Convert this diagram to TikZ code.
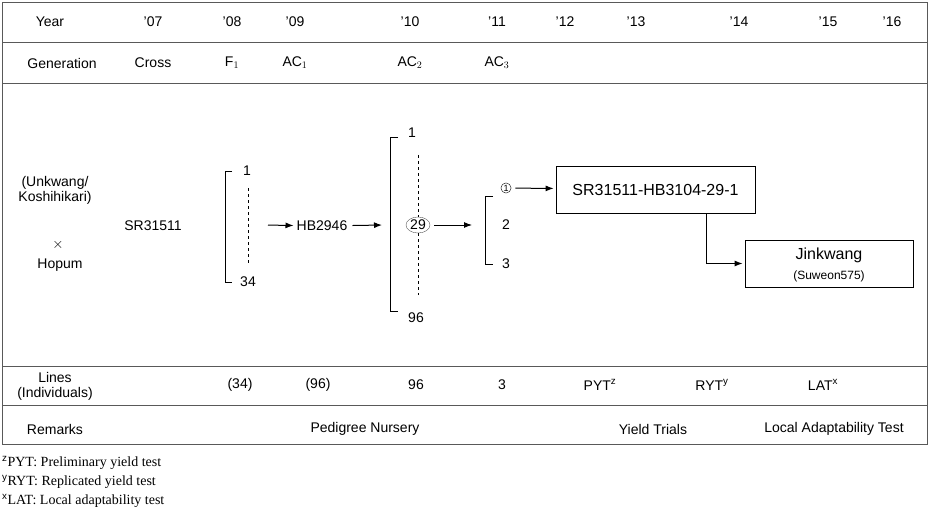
\documentclass[tikz,border=0pt]{standalone}
\usepackage{fontspec}
\setmainfont{Liberation Sans}
\newfontfamily\notefont{Liberation Serif}
\usetikzlibrary{arrows.meta,shapes.geometric}
\begin{document}
\begin{tikzpicture}[x=1pt,y=-1pt,
    txt/.style={font=\fontsize{14}{15}\selectfont,inner sep=1pt},
    small/.style={font=\fontsize{12}{13}\selectfont,inner sep=1pt},
    arr/.style={-{Latex[length=8pt,width=6pt]},line width=1pt,shorten >=2pt,shorten <=4pt},
    brk/.style={line width=0.8pt},
    note/.style={font=\notefont\fontsize{14}{15}\selectfont,anchor=west,inner sep=0pt}]
    \useasboundingbox (0,0) rectangle (929,524);

    % Table frame
    \draw[gray!70!black] (2,2) rectangle (927,444);
    \foreach \y in {42,83,366,405}
        \draw[gray!70!black] (2,\y) -- (927,\y);

    % Year row
    \node[txt] (year) at (50,22) {Year};
    \foreach \x/\t in {153/07,232/08,295/09,410/10,497/11,565/12,636/13,739/14,828/15,892/16}
        \node[txt] at (\x,22) {'\t};

    % Generation row
    \node[txt] (gen) at (62,63) {Generation};
    \node[txt] (cross) at (153,63) {Cross};
    \node[txt] (f1) at (232,63) {F$_1$};
    \node[txt] (ac1) at (295,63) {AC$_1$};
    \node[txt] (ac2) at (410,63) {AC$_2$};
    \node[txt] (ac3) at (497,63) {AC$_3$};

    % Parents
    \node[txt,align=center] (parents) at (55,190) {(Unkwang/\\Koshihikari)};
    \node[txt] (times) at (58,245) {$\times$};
    \node[txt] (hopum) at (60,265) {Hopum};
    \node[txt] (sr) at (153,226) {SR31511};

    % F1 lines
    \draw[brk] (232,171) -- (225,171) -- (225,282) -- (232,282);
    \node[txt] (f1top) at (247,171) {1};
    \node[txt] (f1bot) at (248,282) {34};
    \draw[dashed] (248,188) -- (248,265);
    \coordinate (a1) at (264,225);
    \node[txt] (hb) at (322,226) {HB2946};
    \draw[arr] (a1) -- (hb);

    % AC1 lines
    \draw[brk] (398,137) -- (390,137) -- (390,311) -- (398,311);
    \node[txt] (actop) at (412,133) {1};
    \node[txt] (acbot) at (416,318) {96};
    \node[draw,ellipse,gray!70!black,minimum width=24pt,minimum height=16pt,inner sep=0pt,
          text=black,font=\fontsize{14}{15}\selectfont] (sel) at (418,225) {29};
    \coordinate (a2) at (384,225);
    \draw[arr] (hb) -- (a2);
    \draw[dashed] (418,155) -- (sel.north);
    \draw[dashed] (sel.south) -- (418,295);

    % AC2 lines
    \draw[brk] (493,196) -- (485,196) -- (485,264) -- (493,264);
    \node[circle,draw,inner sep=0.8pt,font=\fontsize{9}{10}\selectfont] (one) at (506,188) {1};
    \node[txt] (two) at (506,225) {2};
    \node[txt] (three) at (506,264) {3};
    \coordinate (a3) at (474,225);
    \draw[arr] (sel) -- (a3);

    % Line and variety boxes
    \node[draw,thick,minimum width=199pt,minimum height=47pt,font=\fontsize{16}{17}\selectfont]
        (line) at (655.5,189.5) {SR31511-HB3104-29-1};
    \draw[arr] (one) -- (line);
    \node[draw,thick,minimum width=168pt,minimum height=47pt] (var) at (829,263.5) {};
    \node[font=\fontsize{16}{17}\selectfont] (jk) at (829,255) {Jinkwang};
    \node[small] (sw) at (829,276) {(Suweon575)};
    \draw[arr,shorten <=0pt] (706,213) |- (var.west);

    % Lines row
    \node[txt,align=center] (lines) at (55,386) {Lines\\(Individuals)};
    \foreach \x/\t in {240/(34),318/(96),416/96,502/3,600/PYT$^{\mathrm z}$,712/RYT$^{\mathrm y}$,823/LAT$^{\mathrm x}$}
        \node[txt] at (\x,385) {\t};

    % Remarks row
    \node[txt] (rem) at (55,429) {Remarks};
    \node[txt] (ped) at (365,429) {Pedigree Nursery};
    \node[txt] (yt) at (653,429) {Yield Trials};
    \node[txt] (lat) at (834,429) {Local Adaptability Test};

    % Footnotes
    \node[note] (n1) at (2,463) {$^{\mathrm z}$PYT: Preliminary yield test};
    \node[note] (n2) at (2,482) {$^{\mathrm y}$RYT: Replicated yield test};
    \node[note] (n3) at (2,501) {$^{\mathrm x}$LAT: Local adaptability test};
\end{tikzpicture}
\end{document}
